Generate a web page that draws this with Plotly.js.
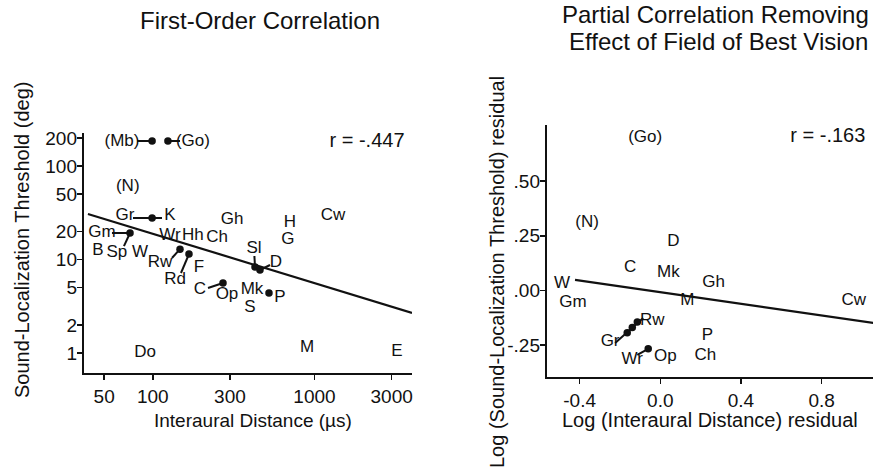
<!DOCTYPE html>
<html>
<head>
<meta charset="utf-8">
<script src="https://cdn.plot.ly/plotly-3.0.1.min.js"></script>
<style>html,body{margin:0;padding:0;background:#fff}#chart{width:889px;height:476px}</style>
</head>
<body>
<div id="chart"></div>
<script>
// ---------- Left panel: First-Order Correlation ----------
const leftLabels = ["(Mb)","(Go)","(N)","Gr","K","Gm","B","Sp","W","Wr","Hh","Ch","Rw","Rd","F","Gh","H","G","Cw","Sl","D","C","Op","Mk","S","P","Do","M","E"];
const leftLabelX = [64.5,177,70,67.3,127.8,48.5,45.8,60,83.3,127.8,177,249.5,110.8,137.2,193,309,705.6,685.6,1301,422.6,578,195.8,287.6,410.8,399,612,89.5,898.8,3236];
const leftLabelY = [180.6,180.6,59.6,29.2,29.2,19.2,12.3,11.7,11.7,17.8,17.8,17.0,9.18,6.04,8.11,26.5,24.6,16.2,29.2,12.9,9.18,4.72,4.17,4.72,3.03,3.88,1.0,1.13,1.02];
const leftDotX = [99,124,99,72.3,147.3,167.4,428.6,460,271.7,523];
const leftDotY = [185,185,27.8,19.2,12.9,11.45,8.32,7.72,5.61,4.38];
// leader segments: start / end
const leftSegX0 = [79.9,124,75.4,55.9,72.3,147.3,167.4,425,428.6,460,219.4];
const leftSegY0 = [185,185,27.8,19.2,19.2,12.9,11.45,10.9,8.32,7.72,4.96];
const leftSegX1 = [99,147.3,114,72.3,66.3,131.4,149.4,428.6,460,530.7,271.7];
const leftSegY1 = [185,185,27.8,19.2,13.9,10.38,7.17,8.32,7.72,8.73,5.61];
const leftFitX = [39.7,4009];
const leftFitY = [30.7,2.68];
const leftR = "r = -.447", leftRX = 2112, leftRY = 180.6;
const leftXTicks = [50,100,300,1000,3000];
const leftYTicks = [1,2,5,10,20,50,100,200];

// ---------- Right panel: Partial Correlation ----------
const rightLabels = ["(Go)","(N)","D","C","Mk","Gh","W","Gm","M","Cw","Rw","Gr","Wr","Op","P","Ch"];
const rightLabelX = [-0.075,-0.363,0.065,-0.149,0.04,0.264,-0.488,-0.433,0.134,0.960,-0.040,-0.249,-0.139,0.025,0.234,0.224];
const rightLabelY = [0.697,0.309,0.222,0.103,0.080,0.034,0.030,-0.057,-0.048,-0.048,-0.139,-0.235,-0.318,-0.304,-0.208,-0.298];
const rightDotX = [-0.164,-0.139,-0.114,-0.060];
const rightDotY = [-0.194,-0.169,-0.144,-0.267];
const rightSegX0 = [-0.224,-0.114];
const rightSegY0 = [-0.240,-0.295];
const rightSegX1 = [-0.085,-0.060];
const rightSegY1 = [-0.126,-0.267];
const rightFitX = [-0.423,1.06];
const rightFitY = [0.048,-0.149];
const rightR = "r = -.163", rightRX = 0.831, rightRY = 0.702;
const rightXTicks = [-0.4,0.0,0.4,0.8];
const rightXTickText = ["-0.4","0.0","0.4","0.8"];
const rightYTicks = [-0.25,0,0.25,0.5];
const rightYTickText = ["-.25",".00",".25",".50"];

const FONT = "Liberation Sans, Arial, Helvetica, sans-serif";
const W = 889, H = 476;
const INK = "#111";
function segs(x0,y0,x1,y1){const xs=[],ys=[];for(let i=0;i<x0.length;i++){xs.push(x0[i],x1[i],null);ys.push(y0[i],y1[i],null);}return {xs,ys};}
const ls = segs(leftSegX0,leftSegY0,leftSegX1,leftSegY1);
const rs = segs(rightSegX0,rightSegY0,rightSegX1,rightSegY1);
const tf = {family: FONT, size: 17, color: INK};
const rf = {family: FONT, size: 20, color: INK};

const traces = [
  {x: leftFitX, y: leftFitY, mode: "lines", line: {color: INK, width: 2.2}, xaxis: "x", yaxis: "y", hoverinfo: "skip"},
  {x: ls.xs, y: ls.ys, mode: "lines", line: {color: INK, width: 2}, xaxis: "x", yaxis: "y", hoverinfo: "skip"},
  {x: leftDotX, y: leftDotY, mode: "markers", marker: {color: INK, size: 7.5}, xaxis: "x", yaxis: "y"},
  {x: leftLabelX, y: leftLabelY, text: leftLabels, mode: "text", textposition: "middle center", textfont: tf, xaxis: "x", yaxis: "y"},
  {x: [leftRX], y: [leftRY], text: [leftR], mode: "text", textposition: "middle center", textfont: rf, xaxis: "x", yaxis: "y"},
  {x: rightFitX, y: rightFitY, mode: "lines", line: {color: INK, width: 2.2}, xaxis: "x2", yaxis: "y2", hoverinfo: "skip"},
  {x: rs.xs, y: rs.ys, mode: "lines", line: {color: INK, width: 2}, xaxis: "x2", yaxis: "y2", hoverinfo: "skip"},
  {x: rightDotX, y: rightDotY, mode: "markers", marker: {color: INK, size: 7.5}, xaxis: "x2", yaxis: "y2"},
  {x: rightLabelX, y: rightLabelY, text: rightLabels, mode: "text", textposition: "middle center", textfont: tf, xaxis: "x2", yaxis: "y2"},
  {x: [rightRX], y: [rightRY], text: [rightR], mode: "text", textposition: "middle center", textfont: rf, xaxis: "x2", yaxis: "y2"}
];

const axBase = {showline: true, linecolor: INK, linewidth: 2.2, showgrid: false, zeroline: false,
  ticks: "outside", ticklen: 5, tickwidth: 1.5, tickcolor: INK, tickfont: {family: FONT, size: 19, color: INK},
  mirror: false, fixedrange: true};

function ann(text, x, y, size, angle){
  return {text: text, xref: "paper", yref: "paper", x: x/W, y: 1-y/H, showarrow: false,
    xanchor: "center", yanchor: "middle", textangle: angle || 0, font: {family: FONT, size: size, color: INK}};
}

const layout = {
  width: W, height: H, margin: {l: 0, r: 0, t: 0, b: 0},
  paper_bgcolor: "#fff", plot_bgcolor: "#fff", showlegend: false,
  xaxis: Object.assign({}, axBase, {type: "log", domain: [84/W, 412/W], range: [1.5745, 3.603],
    tickmode: "array", tickvals: leftXTicks, ticktext: leftXTicks.map(String), anchor: "y"}),
  yaxis: Object.assign({}, axBase, {type: "log", domain: [1-373/H, 1-133/H], range: [-0.214, 2.353],
    tickmode: "array", tickvals: leftYTicks, ticktext: leftYTicks.map(String), anchor: "x", ticklabelstandoff: -4}),
  xaxis2: Object.assign({}, axBase, {domain: [547/W, 873/W], range: [-0.562, 1.055],
    tickmode: "array", tickvals: rightXTicks, ticktext: rightXTickText, anchor: "y2"}),
  yaxis2: Object.assign({}, axBase, {domain: [1-377/H, 1-125/H], range: [-0.396, 0.757],
    tickmode: "array", tickvals: rightYTicks, ticktext: rightYTickText, anchor: "x2", ticklabelstandoff: -4}),
  annotations: [
    ann("First-Order Correlation", 260, 21, 24),
    ann("Partial Correlation Removing", 715, 14, 24),
    ann("Effect of Field of Best Vision", 718, 41, 24),
    ann("Interaural Distance (µs)", 253, 420, 19),
    ann("Log (Interaural Distance) residual", 710, 420, 20),
    ann("Sound-Localization Threshold (deg)", 22, 240, 20, -90),
    ann("Log (Sound-Localization Threshold) residual", 497, 272, 20, -90)
  ]
};

Plotly.newPlot("chart", traces, layout, {displayModeBar: false, staticPlot: true});
</script>
</body>
</html>
